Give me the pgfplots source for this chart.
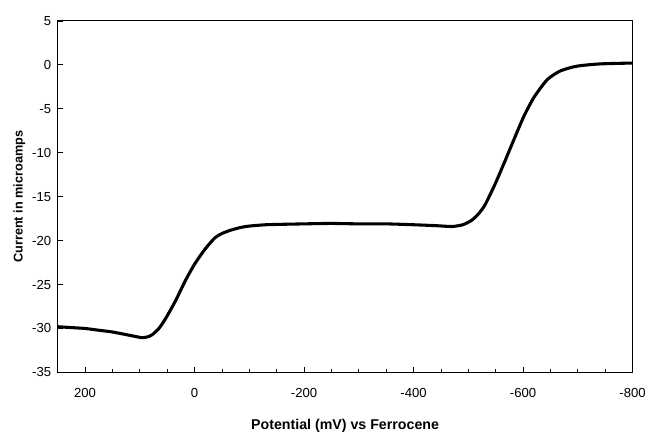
\documentclass[border=0pt]{standalone}
\usepackage{pgfplots}
\pgfplotsset{compat=1.18}
\usepackage{fontspec}
\setmainfont{Liberation Sans}
\begin{document}
\begin{tikzpicture}
\begin{axis}[
  scale only axis,
  width=579pt, height=354pt,
  x dir=reverse,
  xmin=-800, xmax=250,
  ymin=-35, ymax=5,
  xtick={200,0,-200,-400,-600,-800},
  minor xtick={150,100,50,-50,-100,-150,-250,-300,-350,-450,-500,-550,-650,-700,-750},
  ytick={-35,-30,-25,-20,-15,-10,-5,0,5},
  xtick pos=bottom, ytick pos=left,
  tick align=inside,
  major tick length=5pt, minor tick length=3pt,
  axis line style={line width=0.8pt},
  every tick/.style={black, line width=0.7pt},
  /pgf/number format/assume math mode=true,
  ticklabel style={font=\fontsize{13.2}{15}\selectfont},
  xticklabel style={yshift=-13pt},
  yticklabel style={xshift=-3pt},
  xlabel={Potential (mV) vs Ferrocene},
  ylabel={Current in microamps},
  xlabel style={font=\fontsize{14.3}{16}\selectfont\bfseries, yshift=-14pt},
  ylabel style={font=\fontsize{12.8}{15}\selectfont\bfseries, yshift=0pt},
]
\addplot[black, line width=3.1pt, smooth, tension=0.4] coordinates {
(250,-29.8) (225,-29.9) (200,-30.0) (175,-30.2) (150,-30.4) (125,-30.7)
(105,-30.95) (95,-31.05) (85,-30.95) (77,-30.7) (65,-30.0) (53,-28.9)
(35,-26.9) (17,-24.6) (0,-22.7) (-19,-21.0) (-37,-19.7) (-50,-19.2)
(-67,-18.8) (-85,-18.5) (-100,-18.35) (-130,-18.2) (-160,-18.15)
(-200,-18.1) (-250,-18.05) (-300,-18.1) (-350,-18.1) (-400,-18.2)
(-440,-18.3) (-470,-18.4) (-490,-18.2) (-506,-17.7) (-518,-17.0)
(-530,-16.0) (-548,-13.7) (-566,-11.1) (-584,-8.4) (-602,-5.8)
(-620,-3.7) (-644,-1.7) (-668,-0.7) (-698,-0.16) (-740,0.1) (-800,0.2)
};
\end{axis}
\path ([shift={(-58pt,-58pt)}]current axis.south west) rectangle ([shift={(12pt,21pt)}]current axis.north east);
\end{tikzpicture}
\end{document}
